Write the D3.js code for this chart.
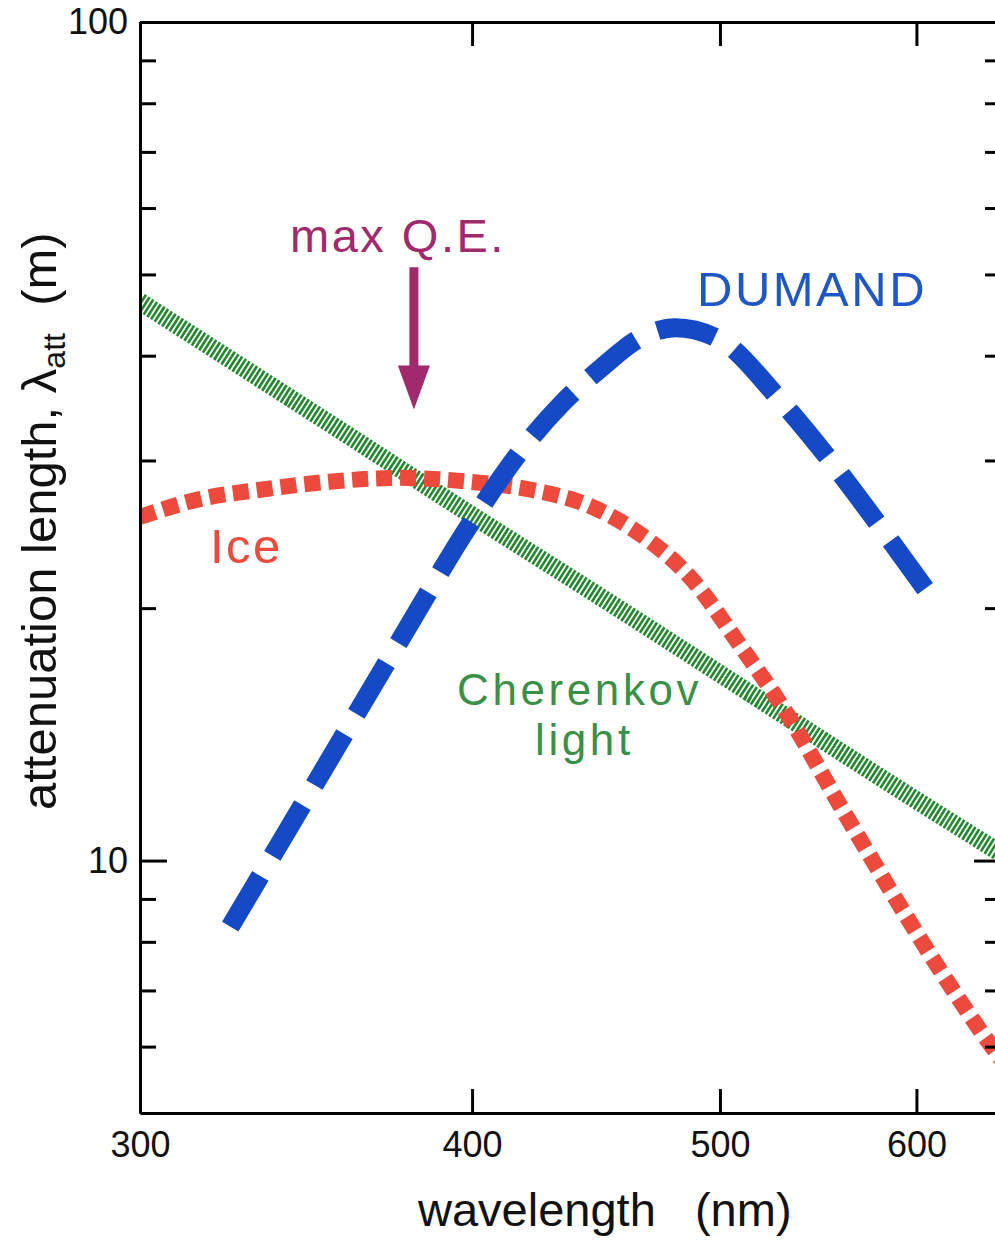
<!DOCTYPE html>
<html>
<head>
<meta charset="utf-8">
<style>
  body { margin: 0; background: #fff; }
  svg text { font-family: "Liberation Sans", Arial, Helvetica, sans-serif; }
</style>
</head>
<body>
<svg width="995" height="1240"></svg>
<script src="https://cdn.jsdelivr.net/npm/d3@7/dist/d3.min.js"></script>
<script>
// wavelength (nm) vs attenuation length (m)
const iceWavelength = [300, 316, 333, 353, 375, 399, 421, 444, 465, 487, 509, 533, 558, 585, 613, 643, 650];
const iceLength = [25.7, 27.0, 27.7, 28.3, 28.6, 28.3, 27.7, 26.5, 24.5, 21.7, 18.1, 14.8, 11.7, 9.26, 7.43, 6.05, 5.8];

const dumandWavelength = [324, 344, 375, 399, 418, 433, 449, 465, 480, 500, 528, 553, 580, 605];
const dumandLength = [8.34, 11.5, 18.2, 25.1, 30.9, 35.0, 38.7, 42.0, 43.2, 41.8, 35.5, 30.1, 25.0, 21.1];

const cherenkovWavelength = [300, 350, 400, 450, 500, 550, 600, 650];
const cherenkovLength = [46.4, 33.8, 25.8, 20.5, 16.7, 13.9, 11.8, 10.2];

const maxQE = 380;          // nm, arrow position
const maxQEFrom = 51, maxQETo = 34.5;

const xTicks = [300, 400, 500, 600];
const yMajor = [10, 100];
const yMinor = [6, 7, 8, 9, 20, 30, 40, 50, 60, 70, 80, 90];

const svg = d3.select("svg");
const plotLeft = 140, plotRight = 1001, plotTop = 22, plotBottom = 1113;

// the wavelength axis of the figure is compressed a little more than a log axis
const x = d3.scalePow().exponent(-0.15).domain([300, 650]).range([plotLeft, plotRight]);
const y = d3.scaleLog().domain([5, 100]).range([plotBottom, plotTop]);

svg.append("defs").append("clipPath").attr("id", "plot")
  .append("rect").attr("x", plotLeft).attr("y", plotTop)
  .attr("width", plotRight - plotLeft).attr("height", plotBottom - plotTop);

const line = d3.line().x(d => x(d[0])).y(d => y(d[1])).curve(d3.curveMonotoneX);
const plot = svg.append("g").attr("clip-path", "url(#plot)");

plot.append("path")
  .datum(d3.zip(cherenkovWavelength, cherenkovLength))
  .attr("d", line)
  .attr("fill", "none")
  .attr("stroke", "#23872f")
  .attr("stroke-width", 18)
  .attr("stroke-dasharray", "2.6,1.8");

plot.append("path")
  .datum(d3.zip(iceWavelength, iceLength))
  .attr("d", line)
  .attr("fill", "none")
  .attr("stroke", "#eb4a3d")
  .attr("stroke-width", 16)
  .attr("stroke-dasharray", "16,8");

const dumand = plot.append("path")
  .datum(d3.zip(dumandWavelength, dumandLength))
  .attr("d", line)
  .attr("fill", "none")
  .attr("stroke", "#1549c6")
  .attr("stroke-width", 19);
// full dash at both ends, like the original
const dashLen = 59;
const total = dumand.node().getTotalLength();
const nGaps = Math.round((total - dashLen) / 82);
dumand.attr("stroke-dasharray", `${dashLen},${(total - dashLen) / nGaps - dashLen}`);

// max Q.E. arrow
const ax = x(maxQE), a0 = y(maxQEFrom), a1 = y(maxQETo);
svg.append("line")
  .attr("x1", ax).attr("x2", ax).attr("y1", a0).attr("y2", a1 - 38)
  .attr("stroke", "#a02a6c").attr("stroke-width", 9);
svg.append("path")
  .attr("d", `M${ax - 16},${a1 - 44} L${ax + 16},${a1 - 44} L${ax},${a1} Z`)
  .attr("fill", "#a02a6c");

// axes
function styleAxis(g) {
  g.select(".domain").attr("stroke", "#000").attr("stroke-width", 3);
  g.selectAll(".tick line").attr("stroke", "#000").attr("stroke-width", 3);
  g.selectAll("text").attr("font-size", 36).attr("fill", "#111")
    .attr("font-family", "'Liberation Sans', Arial, sans-serif");
}

svg.append("g").attr("transform", `translate(0,${plotBottom})`)
  .call(d3.axisBottom(x).tickValues(xTicks).tickFormat(d3.format("d"))
    .tickSizeInner(-24).tickSizeOuter(0).tickPadding(18))
  .call(styleAxis);
svg.append("g").attr("transform", `translate(0,${plotTop})`)
  .call(d3.axisTop(x).tickValues(xTicks).tickFormat("")
    .tickSizeInner(-24).tickSizeOuter(0))
  .call(styleAxis);
svg.append("g").attr("transform", `translate(${plotLeft},0)`)
  .call(d3.axisLeft(y).tickValues(yMajor).tickFormat(d3.format("d"))
    .tickSizeInner(-27).tickSizeOuter(0).tickPadding(12))
  .call(styleAxis);
svg.append("g").attr("transform", `translate(${plotLeft},0)`)
  .call(d3.axisLeft(y).tickValues(yMinor).tickFormat("")
    .tickSizeInner(-16).tickSizeOuter(0))
  .call(styleAxis);
svg.append("g").attr("transform", `translate(${plotRight},0)`)
  .call(d3.axisRight(y).tickValues(yMajor).tickFormat("")
    .tickSizeInner(-27).tickSizeOuter(0))
  .call(styleAxis);
svg.append("g").attr("transform", `translate(${plotRight},0)`)
  .call(d3.axisRight(y).tickValues(yMinor).tickFormat("")
    .tickSizeInner(-16).tickSizeOuter(0))
  .call(styleAxis);

// axis titles
svg.append("text")
  .attr("x", 418).attr("y", 1226)
  .attr("font-size", 47).attr("fill", "#111")
  .style("white-space", "pre")
  .text("wavelength   (nm)");

const yl = svg.append("text")
  .attr("transform", "translate(56,810) rotate(-90)")
  .attr("font-size", 49).attr("fill", "#111")
  .style("white-space", "pre");
yl.append("tspan").text("attenuation length, λ");
yl.append("tspan").attr("font-size", 32).attr("dy", 9).text("att");
yl.append("tspan").attr("dy", -9).text("  (m)");

// curve labels
const labels = [
  { text: "max Q.E.", x: 290, y: 252, size: 47, ls: 2.5, color: "#a02a6c" },
  { text: "DUMAND", x: 697, y: 306, size: 49, ls: 2.5, color: "#1f57c4" },
  { text: "Ice", x: 210, y: 563, size: 49, ls: 2.5, color: "#eb4a3d" },
  { text: "Cherenkov", x: 457, y: 705, size: 44, ls: 3.6, color: "#3a9047" },
  { text: "light", x: 535, y: 755, size: 44, ls: 3.6, color: "#3a9047" }
];
svg.selectAll(".lbl").data(labels).enter().append("text")
  .attr("class", "lbl")
  .attr("x", d => d.x).attr("y", d => d.y)
  .attr("font-size", d => d.size)
  .attr("letter-spacing", d => d.ls)
  .attr("fill", d => d.color)
  .text(d => d.text);
</script>
</body>
</html>
